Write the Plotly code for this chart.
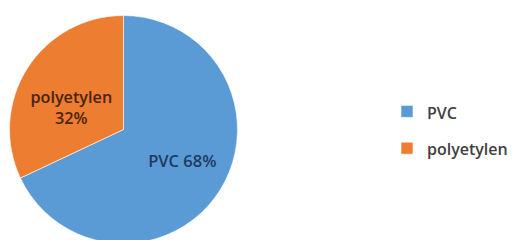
import plotly.graph_objects as go

categories = ["PVC", "polyetylen"]
values = [68, 32]
slice_text = ["&nbsp;&nbsp;&nbsp;&nbsp;&nbsp;PVC 68%", "&nbsp;<br>polyetylen<br>32%"]
colors = ["#5B9BD5", "#ED7D31"]
text_colors = ["#1F3A60", "#4A2306"]

W, H = 517, 240
OFF = 8  # page body margin
cx, cy, r = 123.5 - OFF, 129.5 - OFF, 114
legend_labels = [
    f'<span style="font-size:16px;baseline-shift:3.5px">{c}</span>' for c in categories
]

fig = go.Figure(go.Pie(
    labels=legend_labels,
    values=values,
    text=slice_text,
    textinfo="text",
    textposition="inside",
    insidetextorientation="horizontal",
    sort=False,
    direction="clockwise",
    rotation=0,
    marker=dict(colors=colors, line=dict(color="rgba(255,255,255,0.6)", width=1)),
    textfont=dict(family="Open Sans", size=16.5, color=text_colors, weight=600),
    hoverinfo="skip",
    domain=dict(x=[(cx - r) / W, (cx + r) / W],
                y=[(H - cy - r) / H, (H - cy + r) / H]),
))

fig.update_layout(
    width=W, height=H,
    margin=dict(l=0, r=0, t=0, b=0),
    paper_bgcolor="white",
    showlegend=True,
    legend=dict(
        x=(387 - OFF) / W, y=1 - (130 - OFF) / H, xanchor="left", yanchor="middle",
        font=dict(family="Open Sans", size=26, color="#404040", weight=600),
        bgcolor="rgba(0,0,0,0)",
    ),
)

fig.write_html("out.html")
